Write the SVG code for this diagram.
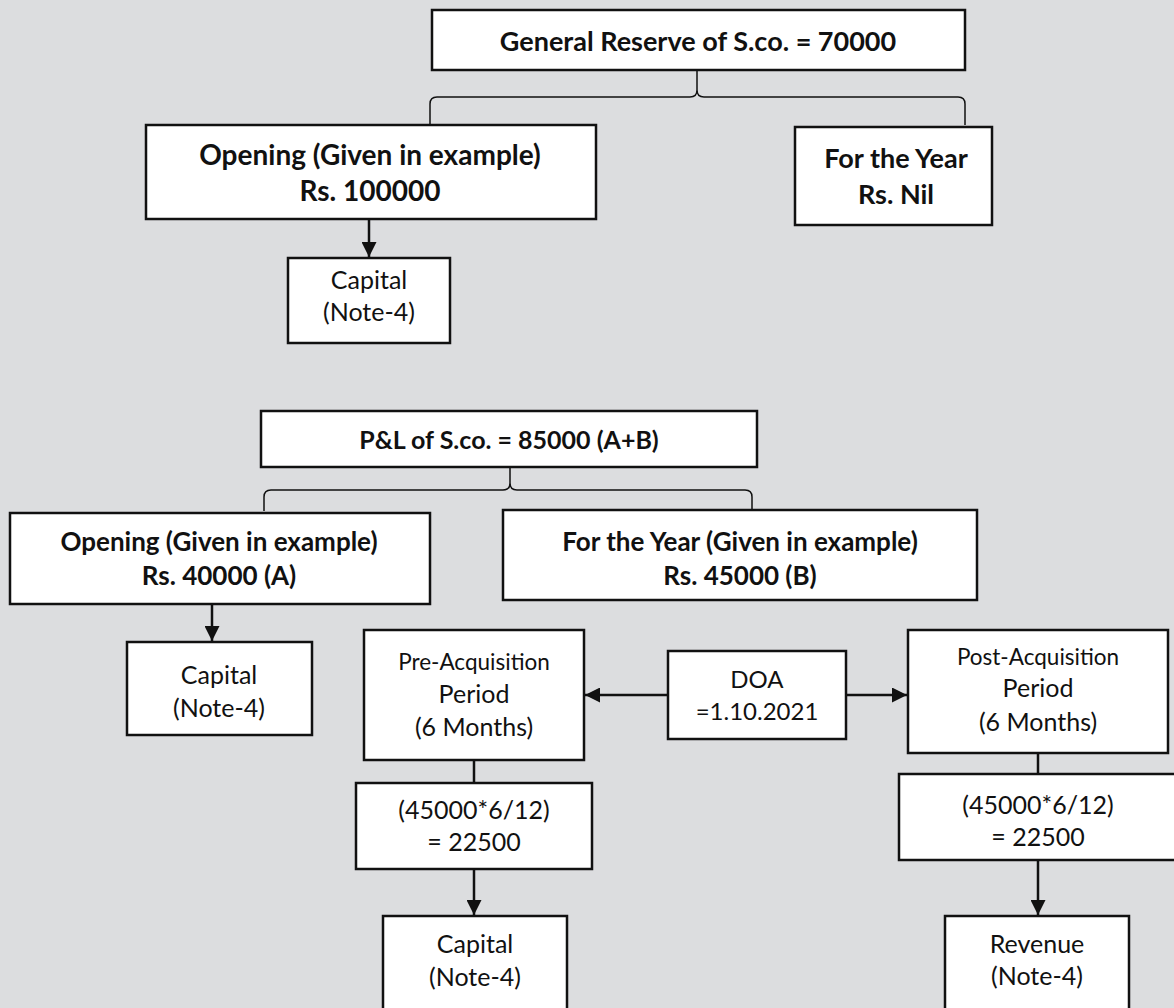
<svg xmlns="http://www.w3.org/2000/svg" width="1174" height="1008" viewBox="0 0 1174 1008">
<style>
.bx{fill:#fff;stroke:#111;stroke-width:2.5}
.t{font-family:Lato,"Liberation Sans",sans-serif;fill:#111;text-anchor:middle}
.b{font-weight:bold;font-size:27px}
.b2{font-weight:bold;font-size:26px}
.r{font-size:25px}
.s{font-size:22.5px}
.ln{fill:none;stroke:#111;stroke-width:2.5}
.br{fill:none;stroke:#111;stroke-width:1.5}
</style>
<defs>
<marker id="ah" viewBox="0 0 10 10" refX="10" refY="5" markerWidth="6" markerHeight="6" markerUnits="strokeWidth" orient="auto">
<path d="M0,0 L10,5 L0,10 z" fill="#111"/>
</marker>
</defs>
<rect width="1174" height="1008" fill="#dcdddf"/>
<g id="connectors">
<path class="br" d="M430,125 L430,104 Q430,97 437,97 L690,97 Q697,97 697,90 L697,70 M697,90 Q697,97 704,97 L958,97 Q965,97 965,104 L965,125"/>
<path class="br" d="M264,511 L264,497 Q264,490 271,490 L503,490 Q510,490 510,483 L510,467 M510,483 Q510,490 517,490 L745,490 Q752,490 752,497 L752,510"/>
<line class="ln" x1="369" y1="219" x2="369" y2="257" marker-end="url(#ah)"/>
<line class="ln" x1="212" y1="604" x2="212" y2="641" marker-end="url(#ah)"/>
<line class="ln" x1="668" y1="695" x2="585" y2="695" marker-end="url(#ah)"/>
<line class="ln" x1="846" y1="695" x2="907" y2="695" marker-end="url(#ah)"/>
<line class="ln" x1="474" y1="760" x2="474" y2="783"/>
<line class="ln" x1="474" y1="869" x2="474" y2="915" marker-end="url(#ah)"/>
<line class="ln" x1="1038" y1="753" x2="1038" y2="774"/>
<line class="ln" x1="1038" y1="860" x2="1038" y2="915" marker-end="url(#ah)"/>
</g>
<g id="gr">
<rect class="bx" x="432" y="10" width="533" height="60"/>
<text class="t b" x="698" y="51">General Reserve of S.co. = 70000</text>
</g>
<g id="gr-opening">
<rect class="bx" x="146" y="125" width="450" height="94"/>
<text class="t b" x="370" y="165" style="font-size:28px">Opening (Given in example)</text>
<text class="t b" x="370" y="201" style="font-size:28px">Rs. 100000</text>
</g>
<g id="gr-year">
<rect class="bx" x="795" y="127" width="197" height="98"/>
<text class="t b" x="896" y="168">For the Year</text>
<text class="t b" x="896" y="204">Rs. Nil</text>
</g>
<g id="gr-capital">
<rect class="bx" x="288" y="258" width="162" height="85"/>
<text class="t r" x="369" y="289">Capital</text>
<text class="t r" x="369" y="321">(Note-4)</text>
</g>
<g id="pl">
<rect class="bx" x="261" y="411" width="496" height="56"/>
<text class="t b" x="509" y="449" style="font-size:25px">P&amp;L of S.co. = 85000 (A+B)</text>
</g>
<g id="pl-opening">
<rect class="bx" x="10" y="513" width="420" height="91"/>
<text class="t b2" x="219" y="551">Opening (Given in example)</text>
<text class="t b2" x="219" y="585">Rs. 40000 (A)</text>
</g>
<g id="pl-year">
<rect class="bx" x="503" y="510" width="474" height="90"/>
<text class="t b2" x="740" y="551">For the Year (Given in example)</text>
<text class="t b2" x="740" y="585">Rs. 45000 (B)</text>
</g>
<g id="pl-capital">
<rect class="bx" x="127" y="642" width="185" height="93"/>
<text class="t r" x="219" y="684">Capital</text>
<text class="t r" x="219" y="717">(Note-4)</text>
</g>
<g id="pre">
<rect class="bx" x="364" y="630" width="220" height="130"/>
<text class="t s" x="474" y="670">Pre-Acquisition</text>
<text class="t r" x="474" y="703">Period</text>
<text class="t r" x="474" y="736">(6 Months)</text>
</g>
<g id="doa">
<rect class="bx" x="668" y="651" width="178" height="88"/>
<text class="t r" x="757" y="688" style="font-size:24px">DOA</text>
<text class="t r" x="757" y="720" style="font-size:24px">=1.10.2021</text>
</g>
<g id="post">
<rect class="bx" x="908" y="630" width="260" height="123"/>
<text class="t s" x="1038" y="665">Post-Acquisition</text>
<text class="t r" x="1038" y="697">Period</text>
<text class="t r" x="1038" y="731">(6 Months)</text>
</g>
<g id="pre-calc">
<rect class="bx" x="356" y="783" width="236" height="86"/>
<text class="t r" x="474" y="819">(45000*6/12)</text>
<text class="t r" x="474" y="851">= 22500</text>
</g>
<g id="pre-capital">
<rect class="bx" x="383" y="916" width="184" height="100"/>
<text class="t r" x="475" y="953">Capital</text>
<text class="t r" x="475" y="986">(Note-4)</text>
</g>
<g id="post-calc">
<rect class="bx" x="899" y="774" width="290" height="86"/>
<text class="t r" x="1038" y="814">(45000*6/12)</text>
<text class="t r" x="1038" y="846">= 22500</text>
</g>
<g id="post-revenue">
<rect class="bx" x="945" y="916" width="184" height="100"/>
<text class="t r" x="1037" y="953">Revenue</text>
<text class="t r" x="1037" y="985">(Note-4)</text>
</g>
</svg>
